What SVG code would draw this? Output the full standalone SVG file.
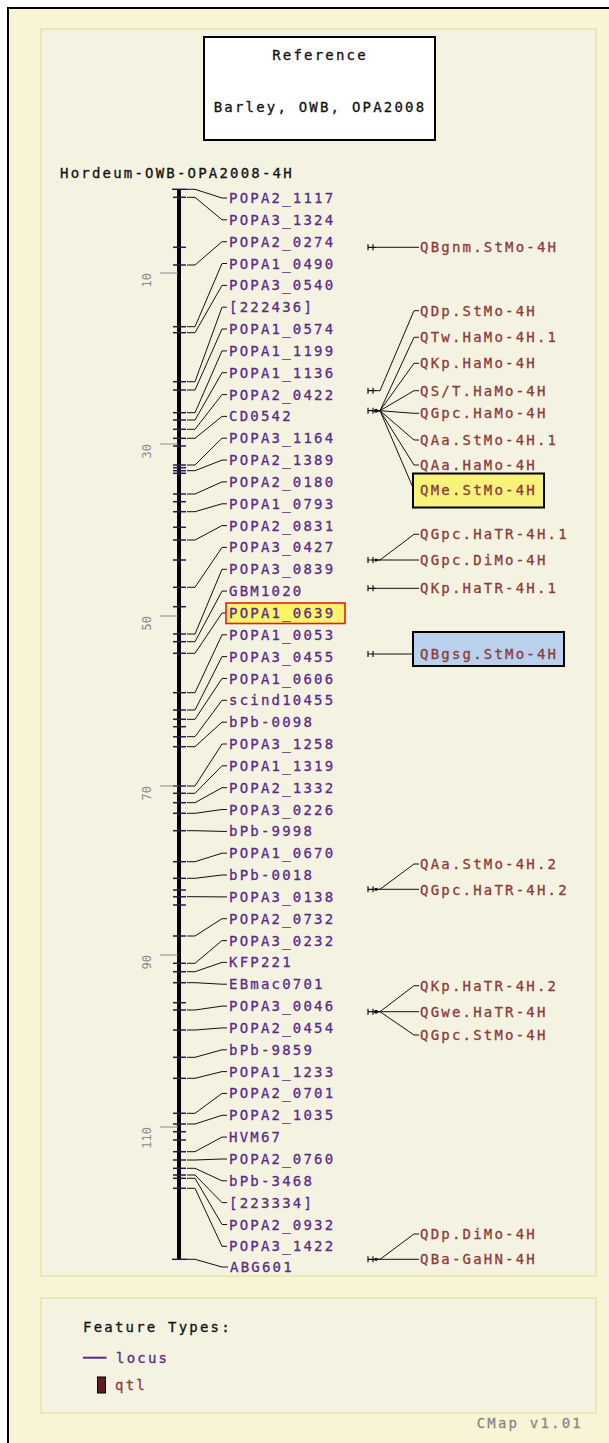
<svg xmlns="http://www.w3.org/2000/svg" width="609" height="1443" viewBox="0 0 609 1443">
<defs>
<style>
.bg{fill:#f7f5d5}
.panel{fill:#f4f3e2;stroke:#e6e4a8;stroke-width:1.5}
.t{font-family:"DejaVu Sans Mono","Liberation Mono",monospace;font-size:14px;letter-spacing:2.2px;stroke-width:0.3px}
.loc{fill:#5a2a88;stroke:#5a2a88}
.qtl{fill:#8c3a3a;stroke:#8c3a3a}
.blk{fill:#111;stroke:#111}
.gry{fill:#888;stroke:#888}
.scale{font-family:"DejaVu Sans Mono","Liberation Mono",monospace;font-size:12px;fill:#8a8a8a}
.tick{stroke:#2a1848;stroke-width:1.5}
.sc{stroke:#8a8a8a;stroke-width:1}
#connectors polyline,#connectors line{fill:none;stroke:#111;stroke-width:1}
.qm{stroke:#111;stroke-width:1.2;fill:none}
</style>
</defs>
<rect x="0" y="0" width="609" height="1443" fill="#ffffff"/>
<rect class="bg" x="8" y="8" width="601" height="1435"/>
<path d="M8,1443 V8 H609" fill="none" stroke="#000" stroke-width="2"/>
<rect class="panel" x="41" y="29" width="555" height="1247"/>
<rect class="panel" x="41" y="1298" width="555" height="115"/>

<g id="reference-box">
<rect x="204" y="37" width="231" height="103" fill="#fff" stroke="#000" stroke-width="2"/>
<text class="t blk" x="320" y="60" text-anchor="middle">Reference</text>
<text class="t blk" x="320" y="112" text-anchor="middle">Barley, OWB, OPA2008</text>
</g>
<g id="map-title"><text class="t blk" x="60" y="178">Hordeum-OWB-OPA2008-4H</text></g>

<g id="chromosome">
<line x1="179" y1="189" x2="179" y2="1260" stroke="#000" stroke-width="4"/>
<g class="tick">
<line x1="172" y1="189.3" x2="187" y2="189.3"/><line x1="173" y1="197.3" x2="186" y2="197.3"/><line x1="173" y1="247.3" x2="186" y2="247.3"/><line x1="173" y1="265" x2="186" y2="265"/><line x1="173" y1="326.7" x2="186" y2="326.7"/><line x1="173" y1="332.7" x2="186" y2="332.7"/><line x1="173" y1="381.7" x2="186" y2="381.7"/><line x1="173" y1="390" x2="186" y2="390"/><line x1="173" y1="412.7" x2="186" y2="412.7"/><line x1="173" y1="420" x2="186" y2="420"/><line x1="173" y1="429.3" x2="186" y2="429.3"/><line x1="173" y1="438.3" x2="186" y2="438.3"/><line x1="173" y1="446" x2="186" y2="446"/><line x1="173" y1="465" x2="186" y2="465"/><line x1="173" y1="467.7" x2="186" y2="467.7"/><line x1="173" y1="470.7" x2="186" y2="470.7"/><line x1="173" y1="473.3" x2="186" y2="473.3"/><line x1="173" y1="494" x2="186" y2="494"/><line x1="173" y1="501.7" x2="186" y2="501.7"/><line x1="173" y1="511.7" x2="186" y2="511.7"/><line x1="173" y1="527.3" x2="186" y2="527.3"/><line x1="173" y1="540" x2="186" y2="540"/><line x1="173" y1="560" x2="186" y2="560"/><line x1="173" y1="587.3" x2="186" y2="587.3"/><line x1="173" y1="606.7" x2="186" y2="606.7"/><line x1="173" y1="634" x2="186" y2="634"/><line x1="173" y1="641.7" x2="186" y2="641.7"/><line x1="173" y1="653.3" x2="186" y2="653.3"/><line x1="173" y1="692.7" x2="186" y2="692.7"/><line x1="173" y1="710" x2="186" y2="710"/><line x1="173" y1="719.3" x2="186" y2="719.3"/><line x1="173" y1="726.7" x2="186" y2="726.7"/><line x1="173" y1="736.7" x2="186" y2="736.7"/><line x1="173" y1="746.7" x2="186" y2="746.7"/><line x1="173" y1="786" x2="186" y2="786"/><line x1="173" y1="793.3" x2="186" y2="793.3"/><line x1="173" y1="802.7" x2="186" y2="802.7"/><line x1="173" y1="813.3" x2="186" y2="813.3"/><line x1="173" y1="830.7" x2="186" y2="830.7"/><line x1="173" y1="861.7" x2="186" y2="861.7"/><line x1="173" y1="878.3" x2="186" y2="878.3"/><line x1="173" y1="890" x2="186" y2="890"/><line x1="173" y1="896.7" x2="186" y2="896.7"/><line x1="173" y1="905" x2="186" y2="905"/><line x1="173" y1="936" x2="186" y2="936"/><line x1="173" y1="963.3" x2="186" y2="963.3"/><line x1="173" y1="971.7" x2="186" y2="971.7"/><line x1="173" y1="982.7" x2="186" y2="982.7"/><line x1="173" y1="1002.7" x2="186" y2="1002.7"/><line x1="173" y1="1010" x2="186" y2="1010"/><line x1="173" y1="1030" x2="186" y2="1030"/><line x1="173" y1="1057.3" x2="186" y2="1057.3"/><line x1="173" y1="1078.3" x2="186" y2="1078.3"/><line x1="173" y1="1113.3" x2="186" y2="1113.3"/><line x1="173" y1="1124" x2="186" y2="1124"/><line x1="173" y1="1131.7" x2="186" y2="1131.7"/><line x1="173" y1="1140" x2="186" y2="1140"/><line x1="173" y1="1151.7" x2="186" y2="1151.7"/><line x1="173" y1="1160" x2="186" y2="1160"/><line x1="173" y1="1168.3" x2="186" y2="1168.3"/><line x1="173" y1="1175" x2="186" y2="1175"/><line x1="173" y1="1178.3" x2="186" y2="1178.3"/><line x1="173" y1="1188.3" x2="186" y2="1188.3"/><line x1="172" y1="1259.3" x2="187" y2="1259.3"/>
</g>
</g>

<g id="scale">
<g class="sc">
<line x1="160" y1="273" x2="178" y2="273"/><line x1="160" y1="444" x2="178" y2="444"/><line x1="160" y1="616" x2="178" y2="616"/><line x1="160" y1="786" x2="178" y2="786"/><line x1="160" y1="955" x2="178" y2="955"/><line x1="160" y1="1127" x2="178" y2="1127"/>
</g>
<text class="scale" transform="translate(151,273) rotate(-90)" text-anchor="end">10</text>
<text class="scale" transform="translate(151,444) rotate(-90)" text-anchor="end">30</text>
<text class="scale" transform="translate(151,616) rotate(-90)" text-anchor="end">50</text>
<text class="scale" transform="translate(151,786) rotate(-90)" text-anchor="end">70</text>
<text class="scale" transform="translate(151,955) rotate(-90)" text-anchor="end">90</text>
<text class="scale" transform="translate(151,1127) rotate(-90)" text-anchor="end">110</text>
</g>

<g id="connectors">
<polyline points="187,189.3 195,189.3 222,198 227,198"/>
<polyline points="187,197.3 195,197.3 222,219.8 227,219.8"/>
<polyline points="187,265 195,265 222,241.7 227,241.7"/>
<polyline points="187,326.7 195,326.7 222,263.5 227,263.5"/>
<polyline points="187,332.7 195,332.7 222,285.4 227,285.4"/>
<polyline points="187,381.7 195,381.7 222,307.2 227,307.2"/>
<polyline points="187,390 195,390 222,329 227,329"/>
<polyline points="187,412.7 195,412.7 222,350.9 227,350.9"/>
<polyline points="187,420 195,420 222,372.7 227,372.7"/>
<polyline points="187,429.3 195,429.3 222,394.6 227,394.6"/>
<polyline points="187,438.3 195,438.3 222,416.4 227,416.4"/>
<polyline points="187,465 195,465 222,438.2 227,438.2"/>
<polyline points="187,470.7 195,470.7 222,460.1 227,460.1"/>
<polyline points="187,494 195,494 222,481.9 227,481.9"/>
<polyline points="187,511.7 195,511.7 222,503.8 227,503.8"/>
<polyline points="187,540 195,540 222,525.6 227,525.6"/>
<polyline points="187,587.3 195,587.3 222,547.4 227,547.4"/>
<polyline points="187,634 195,634 222,569.3 227,569.3"/>
<polyline points="187,641.7 195,641.7 222,591.1 227,591.1"/>
<polyline points="187,653.3 195,653.3 222,613 226,613"/>
<polyline points="187,692.7 195,692.7 222,634.8 227,634.8"/>
<polyline points="187,710 195,710 222,656.6 227,656.6"/>
<polyline points="187,719.3 195,719.3 222,678.5 227,678.5"/>
<polyline points="187,736.7 195,736.7 222,700.3 227,700.3"/>
<polyline points="187,746.7 195,746.7 222,722.2 227,722.2"/>
<polyline points="187,786 195,786 222,744 227,744"/>
<polyline points="187,793.3 195,793.3 222,765.8 227,765.8"/>
<polyline points="187,802.7 195,802.7 222,787.7 227,787.7"/>
<polyline points="187,813.3 195,813.3 222,809.5 227,809.5"/>
<polyline points="187,830.7 195,830.7 222,831.4 227,831.4"/>
<polyline points="187,861.7 195,861.7 222,853.2 227,853.2"/>
<polyline points="187,878.3 195,878.3 222,875 227,875"/>
<polyline points="187,896.7 195,896.7 222,896.9 227,896.9"/>
<polyline points="187,936 195,936 222,918.7 227,918.7"/>
<polyline points="187,963.3 195,963.3 222,940.6 227,940.6"/>
<polyline points="187,971.7 195,971.7 222,962.4 227,962.4"/>
<polyline points="187,982.7 195,982.7 222,984.2 227,984.2"/>
<polyline points="187,1010 195,1010 222,1006.1 227,1006.1"/>
<polyline points="187,1030 195,1030 222,1027.9 227,1027.9"/>
<polyline points="187,1057.3 195,1057.3 222,1049.8 227,1049.8"/>
<polyline points="187,1078.3 195,1078.3 222,1071.6 227,1071.6"/>
<polyline points="187,1113.3 195,1113.3 222,1093.4 227,1093.4"/>
<polyline points="187,1124 195,1124 222,1115.3 227,1115.3"/>
<polyline points="187,1151.7 195,1151.7 222,1137.1 227,1137.1"/>
<polyline points="187,1160 195,1160 222,1159 227,1159"/>
<polyline points="187,1168.3 195,1168.3 222,1180.8 227,1180.8"/>
<polyline points="187,1175 195,1175 222,1202.6 227,1202.6"/>
<polyline points="187,1178.3 195,1178.3 222,1224.5 227,1224.5"/>
<polyline points="187,1188.3 195,1188.3 222,1246.3 227,1246.3"/>
<polyline points="187,1259.3 195,1259.3 222,1267 228,1267"/>
<line x1="376" y1="247.3" x2="419" y2="247.3"/>
<polyline points="376,390.7 380,390.7 414,310.7 419,310.7"/>
<polyline points="376,410.7 380,410.7 414,337.3 419,337.3"/>
<polyline points="376,410.7 380,410.7 414,363.3 419,363.3"/>
<polyline points="376,410.7 380,410.7 414,390.7 419,390.7"/>
<polyline points="376,410.7 380,410.7 414,413.3 419,413.3"/>
<polyline points="376,410.7 380,410.7 414,440 419,440"/>
<polyline points="376,410.7 380,410.7 414,465 419,465"/>
<polyline points="376,410.7 380,410.7 414,490 419,490"/>
<polyline points="376,560 380,560 414,534.3 419,534.3"/>
<line x1="376" y1="560" x2="419" y2="560"/>
<line x1="376" y1="588.3" x2="419" y2="588.3"/>
<line x1="376" y1="654" x2="419" y2="654"/>
<polyline points="376,889.3 380,889.3 414,864 419,864"/>
<line x1="376" y1="889.3" x2="419" y2="889.3"/>
<polyline points="376,1011.7 380,1011.7 414,985.7 419,985.7"/>
<line x1="376" y1="1011.7" x2="419" y2="1011.7"/>
<polyline points="376,1011.7 380,1011.7 414,1035 419,1035"/>
<polyline points="376,1259.3 380,1259.3 414,1234 419,1234"/>
<line x1="376" y1="1259.3" x2="419" y2="1259.3"/>
</g>

<g id="qtl-markers" class="qm">
<path d="M368,244.3v6M373,244.3v6M368,247.3h8"/>
<path d="M368,387.7v6M373,387.7v6M368,390.7h8"/>
<path d="M368,407.7v6M373,407.7v6M368,410.7h8"/>
<path d="M368,557v6M373,557v6M368,560h8"/>
<path d="M368,585.3v6M373,585.3v6M368,588.3h8"/>
<path d="M368,651v6M373,651v6M368,654h8"/>
<path d="M368,886.3v6M373,886.3v6M368,889.3h8"/>
<path d="M368,1008.7v6M373,1008.7v6M368,1011.7h8"/>
<path d="M368,1256.3v6M373,1256.3v6M368,1259.3h8"/>
</g>
<g fill="#111">
<circle cx="376" cy="410.7" r="2"/><circle cx="376" cy="560" r="1.6"/><circle cx="376" cy="889.3" r="1.6"/><circle cx="376" cy="1011.7" r="2"/><circle cx="376" cy="1259.3" r="1.6"/>
</g>

<g id="loci" class="t loc">
<g id="L01"><text x="229" y="203">POPA2_1117</text></g>
<g id="L02"><text x="229" y="224.8">POPA3_1324</text></g>
<g id="L03"><text x="229" y="246.7">POPA2_0274</text></g>
<g id="L04"><text x="229" y="268.5">POPA1_0490</text></g>
<g id="L05"><text x="229" y="290.4">POPA3_0540</text></g>
<g id="L06"><text x="229" y="312.2">[222436]</text></g>
<g id="L07"><text x="229" y="334">POPA1_0574</text></g>
<g id="L08"><text x="229" y="355.9">POPA1_1199</text></g>
<g id="L09"><text x="229" y="377.7">POPA1_1136</text></g>
<g id="L10"><text x="229" y="399.6">POPA2_0422</text></g>
<g id="L11"><text x="229" y="421.4">CD0542</text></g>
<g id="L12"><text x="229" y="443.2">POPA3_1164</text></g>
<g id="L13"><text x="229" y="465.1">POPA2_1389</text></g>
<g id="L14"><text x="229" y="486.9">POPA2_0180</text></g>
<g id="L15"><text x="229" y="508.8">POPA1_0793</text></g>
<g id="L16"><text x="229" y="530.6">POPA2_0831</text></g>
<g id="L17"><text x="229" y="552.4">POPA3_0427</text></g>
<g id="L18"><text x="229" y="574.3">POPA3_0839</text></g>
<g id="L19"><text x="229" y="596.1">GBM1020</text></g>
<g id="L20"><rect x="226" y="603" width="119" height="20.5" fill="#fbf36a" stroke="#e0201a" stroke-width="1.6"/><text x="229" y="618">POPA1_0639</text></g>
<g id="L21"><text x="229" y="639.8">POPA1_0053</text></g>
<g id="L22"><text x="229" y="661.6">POPA3_0455</text></g>
<g id="L23"><text x="229" y="683.5">POPA1_0606</text></g>
<g id="L24"><text x="229" y="705.3">scind10455</text></g>
<g id="L25"><text x="229" y="727.2">bPb-0098</text></g>
<g id="L26"><text x="229" y="749">POPA3_1258</text></g>
<g id="L27"><text x="229" y="770.8">POPA1_1319</text></g>
<g id="L28"><text x="229" y="792.7">POPA2_1332</text></g>
<g id="L29"><text x="229" y="814.5">POPA3_0226</text></g>
<g id="L30"><text x="229" y="836.4">bPb-9998</text></g>
<g id="L31"><text x="229" y="858.2">POPA1_0670</text></g>
<g id="L32"><text x="229" y="880">bPb-0018</text></g>
<g id="L33"><text x="229" y="901.9">POPA3_0138</text></g>
<g id="L34"><text x="229" y="923.7">POPA2_0732</text></g>
<g id="L35"><text x="229" y="945.6">POPA3_0232</text></g>
<g id="L36"><text x="229" y="967.4">KFP221</text></g>
<g id="L37"><text x="229" y="989.2">EBmac0701</text></g>
<g id="L38"><text x="229" y="1011.1">POPA3_0046</text></g>
<g id="L39"><text x="229" y="1032.9">POPA2_0454</text></g>
<g id="L40"><text x="229" y="1054.8">bPb-9859</text></g>
<g id="L41"><text x="229" y="1076.6">POPA1_1233</text></g>
<g id="L42"><text x="229" y="1098.4">POPA2_0701</text></g>
<g id="L43"><text x="229" y="1120.3">POPA2_1035</text></g>
<g id="L44"><text x="229" y="1142.1">HVM67</text></g>
<g id="L45"><text x="229" y="1164">POPA2_0760</text></g>
<g id="L46"><text x="229" y="1185.8">bPb-3468</text></g>
<g id="L47"><text x="229" y="1207.6">[223334]</text></g>
<g id="L48"><text x="229" y="1229.5">POPA2_0932</text></g>
<g id="L49"><text x="229" y="1251.3">POPA3_1422</text></g>
<g id="L50"><text x="230" y="1271.5">ABG601</text></g>
</g>

<g id="qtls" class="t qtl">
<g id="Q01"><text x="420" y="252.3">QBgnm.StMo-4H</text></g>
<g id="Q02"><text x="420" y="315.7">QDp.StMo-4H</text></g>
<g id="Q03"><text x="420" y="342.3">QTw.HaMo-4H.1</text></g>
<g id="Q04"><text x="420" y="368.3">QKp.HaMo-4H</text></g>
<g id="Q05"><text x="420" y="395.7">QS/T.HaMo-4H</text></g>
<g id="Q06"><text x="420" y="418.3">QGpc.HaMo-4H</text></g>
<g id="Q07"><text x="420" y="445">QAa.StMo-4H.1</text></g>
<g id="Q08"><text x="420" y="470">QAa.HaMo-4H</text></g>
<g id="Q09"><rect x="413" y="473.5" width="131" height="34" fill="#f7f27a" stroke="#000" stroke-width="2"/><text x="420" y="495">QMe.StMo-4H</text></g>
<g id="Q10"><text x="420" y="539.3">QGpc.HaTR-4H.1</text></g>
<g id="Q11"><text x="420" y="565">QGpc.DiMo-4H</text></g>
<g id="Q12"><text x="420" y="593.3">QKp.HaTR-4H.1</text></g>
<g id="Q13"><rect x="413" y="632" width="151" height="34" fill="#b9d1ec" stroke="#000" stroke-width="2"/><text x="420" y="659">QBgsg.StMo-4H</text></g>
<g id="Q14"><text x="420" y="869">QAa.StMo-4H.2</text></g>
<g id="Q15"><text x="420" y="895">QGpc.HaTR-4H.2</text></g>
<g id="Q16"><text x="420" y="990.7">QKp.HaTR-4H.2</text></g>
<g id="Q17"><text x="420" y="1016.7">QGwe.HaTR-4H</text></g>
<g id="Q18"><text x="420" y="1040">QGpc.StMo-4H</text></g>
<g id="Q19"><text x="420" y="1239">QDp.DiMo-4H</text></g>
<g id="Q20"><text x="420" y="1264.3">QBa-GaHN-4H</text></g>
</g>

<g id="legend">
<text class="t blk" x="83" y="1332.3">Feature Types:</text>
<line x1="83" y1="1357.7" x2="106.5" y2="1357.7" stroke="#5a2a88" stroke-width="2"/>
<text class="t loc" x="116" y="1362.5">locus</text>
<rect x="97.5" y="1377" width="8" height="16" fill="#5e1c1c" stroke="#000" stroke-width="1"/>
<text class="t qtl" x="115" y="1390">qtl</text>
</g>
<text class="t gry" x="583" y="1428" text-anchor="end">CMap v1.01</text>
</svg>
